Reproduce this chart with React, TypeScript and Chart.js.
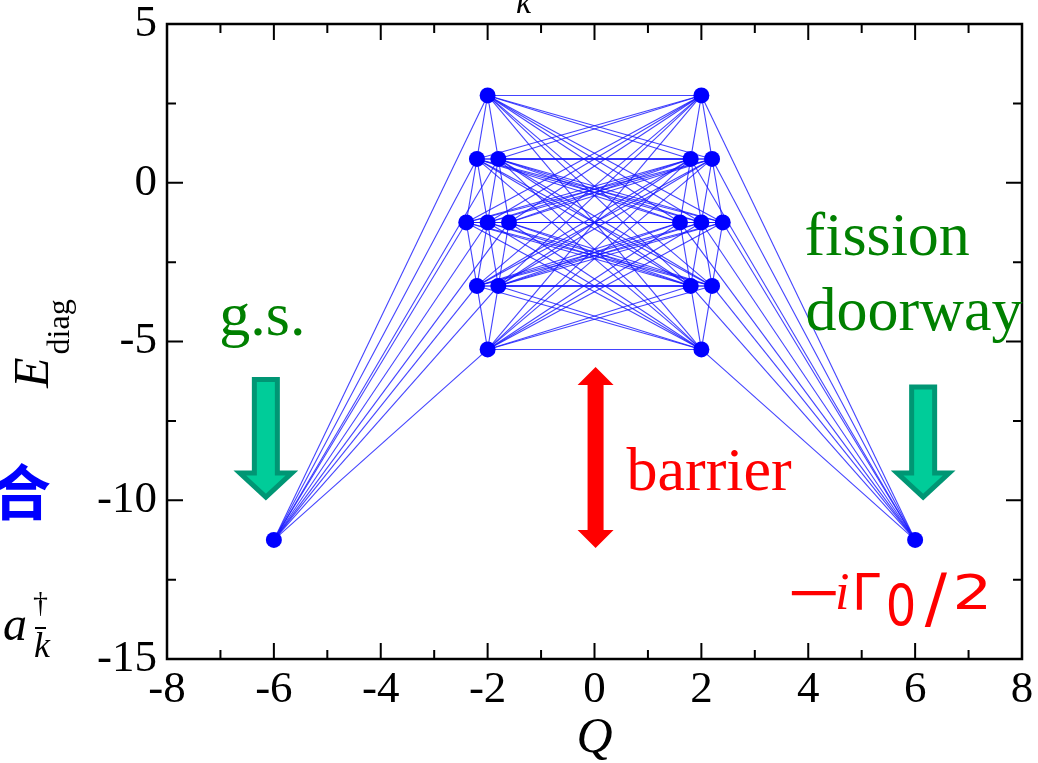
import React, { useEffect, useRef } from "react";
import { Chart, registerables } from "chart.js";

Chart.register(...registerables);

// ---- data ----
const leftClusterQ = [-2.0, -2.2, -1.8, -2.4, -2.0, -1.6, -2.2, -1.8, -2.0];
const rightClusterQ = [2.0, 1.8, 2.2, 1.6, 2.0, 2.4, 1.8, 2.2, 2.0];
const clusterE = [2.75, 0.75, 0.75, -1.25, -1.25, -1.25, -3.25, -3.25, -5.25];
const groundQ = -6;
const groundE = -11.25;
const doorwayQ = 6;
const doorwayE = -11.25;
const levelSpacing = 2;
const quantumShift = 0.2;

const xTickValues = [-8, -6, -4, -2, 0, 2, 4, 6, 8];
const yTickValues = [-15, -10, -5, 0, 5];
const xMinorTicks = [-7, -5, -3, -1, 1, 3, 5, 7];
const yMinorTicks = [-12.5, -7.5, -2.5, 2.5];

type P = { x: number; y: number };

const leftPts: P[] = leftClusterQ.map((q, i) => ({ x: q, y: clusterE[i] }));
const rightPts: P[] = rightClusterQ.map((q, i) => ({ x: q, y: clusterE[i] }));
const groundPt: P = { x: groundQ, y: groundE };
const doorwayPt: P = { x: doorwayQ, y: doorwayE };

const segments: [P, P][] = [];
leftPts.forEach((p) => segments.push([groundPt, p]));
rightPts.forEach((p) => segments.push([p, doorwayPt]));
leftPts.forEach((a) => rightPts.forEach((b) => segments.push([a, b])));
const addIntra = (arr: P[]) =>
  arr.forEach((a, i) =>
    arr.forEach((b, j) => {
      if (
        j > i &&
        Math.abs(Math.abs(a.y - b.y) - levelSpacing) < 1e-6 &&
        Math.abs(Math.abs(a.x - b.x) - quantumShift) < 1e-6
      )
        segments.push([a, b]);
    })
  );
addIntra(leftPts);
addIntra(rightPts);

const SERIF = "'Liberation Serif', 'Times New Roman', serif";
const SANS = "'DejaVu Sans', sans-serif";

function drawDownArrow(
  ctx: CanvasRenderingContext2D,
  cx: number,
  top: number,
  tip: number,
  shaftHalf: number,
  headHalf: number,
  headLen: number
) {
  const hb = tip - headLen;
  ctx.beginPath();
  ctx.moveTo(cx - shaftHalf, top);
  ctx.lineTo(cx + shaftHalf, top);
  ctx.lineTo(cx + shaftHalf, hb);
  ctx.lineTo(cx + headHalf, hb);
  ctx.lineTo(cx, tip);
  ctx.lineTo(cx - headHalf, hb);
  ctx.lineTo(cx - shaftHalf, hb);
  ctx.closePath();
  ctx.fillStyle = "#00cc99";
  ctx.fill();
  ctx.lineJoin = "miter";
  ctx.lineWidth = 5;
  ctx.strokeStyle = "#009674";
  ctx.stroke();
}

function drawDoubleArrow(
  ctx: CanvasRenderingContext2D,
  cx: number,
  top: number,
  bottom: number,
  shaftHalf: number,
  headHalf: number,
  headLen: number
) {
  ctx.beginPath();
  ctx.moveTo(cx, top);
  ctx.lineTo(cx + headHalf, top + headLen);
  ctx.lineTo(cx + shaftHalf, top + headLen);
  ctx.lineTo(cx + shaftHalf, bottom - headLen);
  ctx.lineTo(cx + headHalf, bottom - headLen);
  ctx.lineTo(cx, bottom);
  ctx.lineTo(cx - headHalf, bottom - headLen);
  ctx.lineTo(cx - shaftHalf, bottom - headLen);
  ctx.lineTo(cx - shaftHalf, top + headLen);
  ctx.lineTo(cx - headHalf, top + headLen);
  ctx.closePath();
  ctx.fillStyle = "#ff0000";
  ctx.fill();
}

function glyph(
  ctx: CanvasRenderingContext2D,
  text: string,
  font: string,
  x: number,
  y: number,
  sx = 1,
  sy = 1
) {
  ctx.save();
  ctx.font = font;
  ctx.translate(x, y);
  ctx.scale(sx, sy);
  ctx.fillText(text, 0, 0);
  ctx.restore();
}

const decor = {
  id: "decor",
  beforeDraw(chart: any) {
    const ctx = chart.ctx;
    ctx.save();
    ctx.fillStyle = "#ffffff";
    ctx.fillRect(0, 0, chart.width, chart.height);
    ctx.restore();
  },
  afterDraw(chart: any) {
    const ctx: CanvasRenderingContext2D = chart.ctx;
    const a = chart.chartArea;
    const xs = chart.scales.x;
    const ys = chart.scales.y;
    const X = (v: number) => xs.getPixelForValue(v);
    const Y = (v: number) => ys.getPixelForValue(v);

    ctx.save();
    // ticks (inside, mirrored)
    ctx.strokeStyle = "#000";
    ctx.lineWidth = 2;
    const major = 16;
    const minor = 9;
    const vt = (v: number, len: number) => {
      const px = X(v);
      ctx.beginPath();
      ctx.moveTo(px, a.bottom);
      ctx.lineTo(px, a.bottom - len);
      ctx.moveTo(px, a.top);
      ctx.lineTo(px, a.top + len);
      ctx.stroke();
    };
    const ht = (v: number, len: number) => {
      const py = Y(v);
      ctx.beginPath();
      ctx.moveTo(a.left, py);
      ctx.lineTo(a.left + len, py);
      ctx.moveTo(a.right, py);
      ctx.lineTo(a.right - len, py);
      ctx.stroke();
    };
    xTickValues.forEach((v) => vt(v, major));
    xMinorTicks.forEach((v) => vt(v, minor));
    yTickValues.forEach((v) => ht(v, major));
    yMinorTicks.forEach((v) => ht(v, minor));
    // frame
    ctx.lineWidth = 2.5;
    ctx.strokeRect(a.left, a.top, a.right - a.left, a.bottom - a.top);

    // arrows
    drawDownArrow(ctx, X(-6.15), Y(-6.2), Y(-9.9), 11.5, 26, 24);
    drawDownArrow(ctx, X(6.15), Y(-6.43), Y(-9.9), 11.5, 26, 24);
    drawDoubleArrow(ctx, X(0.02), Y(-5.8), Y(-11.5), 8, 18, 18);

    // labels
    ctx.textAlign = "left";
    ctx.textBaseline = "alphabetic";
    ctx.fillStyle = "#008000";
    ctx.font = `62px ${SERIF}`;
    ctx.fillText("g.s.", X(-7.02), Y(-4.8));
    ctx.fillText("fission", X(3.93), Y(-2.27));
    ctx.fillText("doorway", X(3.95), Y(-4.63));
    ctx.fillStyle = "#ff0000";
    ctx.fillText("barrier", X(0.6), Y(-9.68));

    // -iΓ0/2
    const base = Y(-13.43);
    glyph(ctx, "\u2212", `50px ${SANS}`, X(3.56), base, 1.4, 1);
    glyph(ctx, "i", `italic 52px ${SERIF}`, X(4.5), base);
    glyph(ctx, "\u0393", `50px ${SANS}`, X(4.82), base);
    glyph(ctx, "0", `48px ${SANS}`, X(5.45), base + 17, 1, 1.2);
    glyph(ctx, "/", `66px ${SANS}`, X(6.18), base + 12);
    glyph(ctx, "2", `48px ${SANS}`, X(6.7), base, 1.3, 1);

    // outside texts
    ctx.fillStyle = "#000";
    ctx.save();
    ctx.translate(48, 388);
    ctx.rotate(-Math.PI / 2);
    ctx.font = `italic 50px ${SERIF}`;
    ctx.fillText("E", 0, 0);
    const ew = ctx.measureText("E").width;
    ctx.font = `32px ${SERIF}`;
    ctx.fillText("diag", ew + 3, 21);
    ctx.restore();

    ctx.fillStyle = "#0000ff";
    ctx.font = `bold 60px 'Noto Sans CJK SC', sans-serif`;
    ctx.textBaseline = "middle";
    ctx.fillText("合", -9, 492);
    ctx.textBaseline = "alphabetic";

    ctx.fillStyle = "#000";
    ctx.font = `italic 48px ${SERIF}`;
    ctx.fillText("a", 3, 640);
    ctx.font = `30px ${SERIF}`;
    ctx.fillText("\u2020", 33, 612);
    ctx.fillRect(35, 627, 11, 2);
    ctx.font = `italic 36px ${SERIF}`;
    ctx.fillText("k", 34, 657);

    ctx.font = `italic 34px ${SERIF}`;
    ctx.fillText("k", 516, 13);

    ctx.font = `italic 50px ${SERIF}`;
    ctx.textAlign = "center";
    ctx.fillText("Q", X(0), 752);
    ctx.restore();
  },
};

export default function App() {
  const ref = useRef<HTMLCanvasElement>(null);

  useEffect(() => {
    const lineDatasets = segments.map(([p, q]) => ({
      type: "scatter" as const,
      data: [p, q],
      showLine: true,
      borderColor: "rgba(20,20,255,0.8)",
      borderWidth: 1.1,
      pointRadius: 0,
      pointHoverRadius: 0,
      order: 2,
    }));
    const pointDataset = {
      type: "scatter" as const,
      data: [groundPt, ...leftPts, ...rightPts, doorwayPt],
      showLine: false,
      pointRadius: 8,
      pointBackgroundColor: "#0000ff",
      pointBorderColor: "#0000ff",
      pointBorderWidth: 0,
      order: 0,
    };

    const tickFont = { family: SERIF, size: 45, lineHeight: 1 };

    const chart = new Chart(ref.current as HTMLCanvasElement, {
      type: "scatter",
      data: { datasets: [pointDataset as any, ...lineDatasets] },
      options: {
        animation: false,
        responsive: false,
        maintainAspectRatio: false,
        devicePixelRatio: 1,
        layout: { padding: { top: 24, right: 16, left: 0, bottom: 0 } },
        plugins: { legend: { display: false }, tooltip: { enabled: false } },
        events: [],
        scales: {
          x: {
            type: "linear",
            min: -8,
            max: 8,
            grid: { display: false, drawTicks: false },
            border: { display: false },
            afterBuildTicks: (s: any) => {
              s.ticks = xTickValues.map((v) => ({ value: v }));
            },
            afterFit: (s: any) => {
              s.height = 104;
              s.paddingLeft = 0;
              s.paddingRight = 0;
            },
            ticks: {
              color: "#000",
              font: tickFont,
              padding: 9,
              maxRotation: 0,
              autoSkip: false,
              callback: (v: any) => String(v),
            },
          },
          y: {
            type: "linear",
            min: -15,
            max: 5,
            grid: { display: false, drawTicks: false },
            border: { display: false },
            afterBuildTicks: (s: any) => {
              s.ticks = yTickValues.map((v) => ({ value: v }));
            },
            afterFit: (s: any) => {
              s.width = 167;
              s.paddingTop = 0;
              s.paddingBottom = 0;
            },
            ticks: {
              color: "#000",
              font: tickFont,
              padding: 10,
              autoSkip: false,
              callback: (v: any) => String(v),
            },
          },
        },
      },
      plugins: [decor],
    });
    return () => chart.destroy();
  }, []);

  return (
    <div
      style={{
        position: "fixed",
        left: 0,
        top: 0,
        width: 1038,
        height: 763,
        background: "#fff",
        overflow: "hidden",
      }}
    >
      <canvas
        ref={ref}
        width={1038}
        height={763}
        style={{ display: "block", width: 1038, height: 763 }}
      />
    </div>
  );
}
